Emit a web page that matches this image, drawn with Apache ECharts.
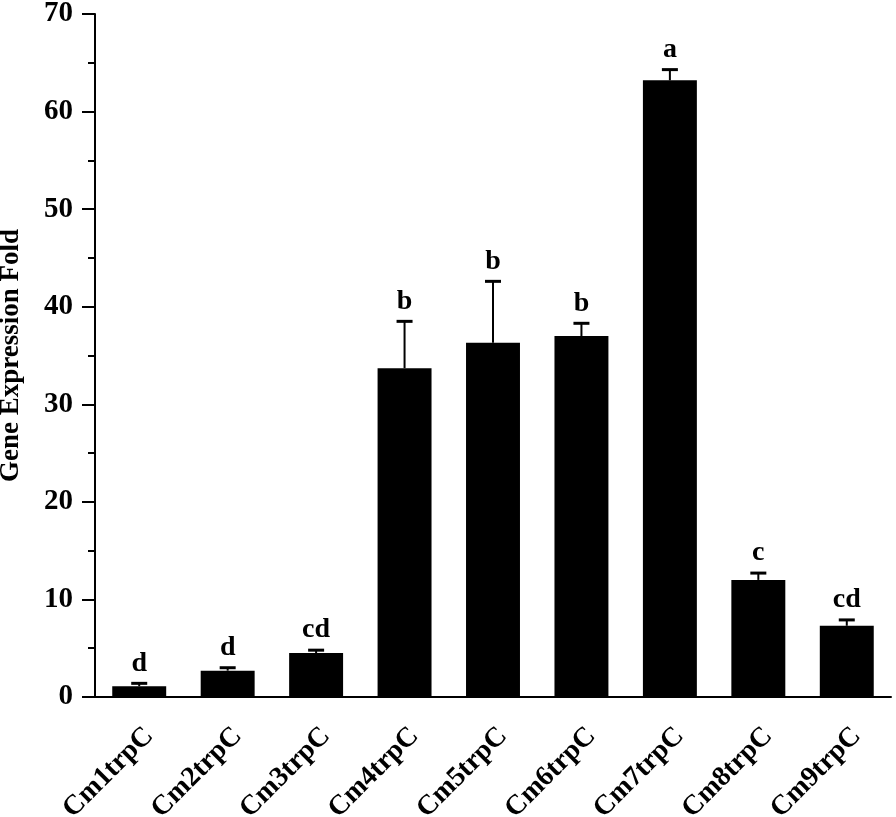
<!DOCTYPE html>
<html>
<head>
<meta charset="utf-8">
<script src="https://cdn.jsdelivr.net/npm/echarts@6/dist/echarts.min.js"></script>
<style>
  html, body { margin: 0; padding: 0; background: #fff; }
  #chart { width: 896px; height: 817px; }
</style>
</head>
<body>
<div id="chart"></div>
<script>
// data
const categories = ['Cm1trpC', 'Cm2trpC', 'Cm3trpC', 'Cm4trpC', 'Cm5trpC', 'Cm6trpC', 'Cm7trpC', 'Cm8trpC', 'Cm9trpC'];
const means = [1.1, 2.7, 4.5, 33.7, 36.3, 37.0, 63.2, 12.0, 7.3];
const errors = [0.3, 0.3, 0.3, 4.8, 6.3, 1.3, 1.1, 0.7, 0.6];
const letters = ['d', 'd', 'cd', 'b', 'b', 'b', 'a', 'c', 'cd'];
const yTicks = [0, 10, 20, 30, 40, 50, 60, 70];

const fontFamily = '"Liberation Serif", "Times New Roman", serif';

const chart = echarts.init(document.getElementById('chart'));

// error bar + significance letter for each bar
const errData = means.map((m, i) => [i, m, m + errors[i], letters[i]]);

const option = {
  animation: false,
  grid: { left: 95, right: 5, top: 14, bottom: 120, outerBoundsMode: 'none', containLabel: false },
  xAxis: {
    type: 'category',
    data: categories,
    axisLine: { show: true, lineStyle: { color: '#000', width: 2 } },
    axisTick: { show: false },
    axisLabel: {
      rotate: 45,
      margin: 25,
      verticalAlign: 'top',
      color: '#000',
      fontSize: 28,
      fontWeight: 'bold',
      fontFamily: fontFamily
    }
  },
  yAxis: {
    type: 'value',
    min: yTicks[0],
    max: yTicks[yTicks.length - 1],
    interval: 10,
    name: 'Gene Expression Fold',
    nameLocation: 'middle',
    nameGap: 70,
    nameTextStyle: {
      color: '#000',
      fontSize: 27,
      fontWeight: 'bold',
      fontFamily: fontFamily
    },
    splitLine: { show: false },
    axisLine: { show: true, lineStyle: { color: '#000', width: 2 } },
    axisTick: { show: true, inside: false, length: 13, lineStyle: { color: '#000', width: 2 } },
    minorTick: { show: true, splitNumber: 2, length: 7, lineStyle: { color: '#000', width: 2 } },
    axisLabel: {
      margin: 22,
      color: '#000',
      fontSize: 29,
      fontWeight: 'bold',
      fontFamily: fontFamily
    }
  },
  series: [
    {
      type: 'bar',
      data: means,
      barWidth: '61%',
      itemStyle: { color: '#000' }
    },
    {
      type: 'custom',
      data: errData,
      z: 5,
      renderItem: function (params, api) {
        const x = api.value(0);
        const base = api.coord([x, api.value(1)]);
        const top = api.coord([x, api.value(2)]);
        const half = 8;
        return {
          type: 'group',
          children: [
            {
              type: 'line',
              shape: { x1: base[0], y1: base[1], x2: top[0], y2: top[1] },
              style: { stroke: '#000', lineWidth: 2 }
            },
            {
              type: 'line',
              shape: { x1: top[0] - half, y1: top[1], x2: top[0] + half, y2: top[1] },
              style: { stroke: '#000', lineWidth: 3 }
            },
            {
              type: 'text',
              x: top[0],
              y: top[1] - 6,
              style: {
                text: api.value(3),
                textAlign: 'center',
                textVerticalAlign: 'bottom',
                fill: '#000',
                font: 'bold 28px ' + fontFamily
              }
            }
          ]
        };
      }
    }
  ]
};

chart.setOption(option);
</script>
</body>
</html>
